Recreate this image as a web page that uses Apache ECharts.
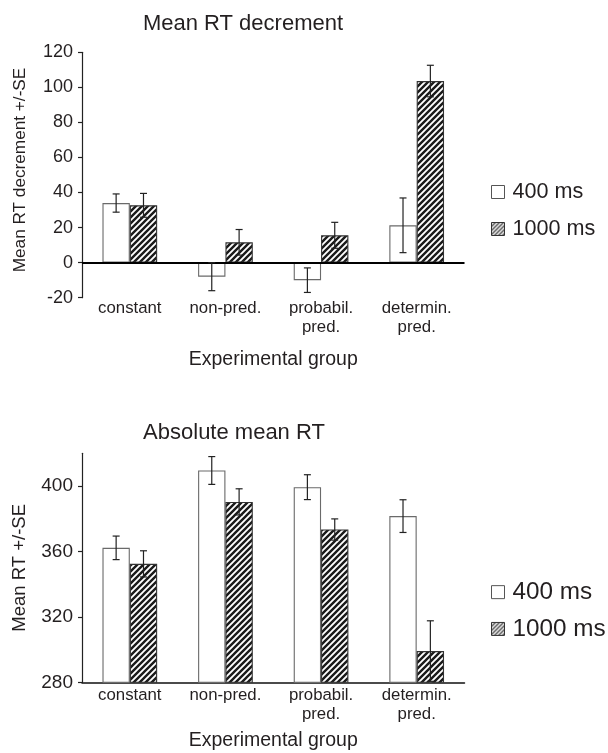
<!DOCTYPE html>
<html>
<head>
<meta charset="utf-8">
<script src="https://cdn.jsdelivr.net/npm/echarts@6/dist/echarts.min.js"></script>
<style>html,body{margin:0;padding:0;background:#fff;}#c{width:608px;height:753px;}</style>
</head>
<body>
<div id="c"></div>
<script>
var categories = ['constant', 'non-pred.', 'probabil.\npred.', 'determin.\npred.'];
var decrement400 = [34, -8, -10, 21.3];
var decrement400SE = [5.2, 8, 7, 15.6];
var decrement1000 = [32.7, 11.6, 15.6, 103.6];
var decrement1000SE = [6.8, 7.3, 7.4, 9];
var absolute400 = [362.2, 409.5, 399.3, 381.6];
var absolute400SE = [7.2, 8.5, 7.6, 10];
var absolute1000 = [352.4, 390.3, 373.4, 299.1];
var absolute1000SE = [8, 8, 6.5, 18.5];
var topTicks = [-20, 0, 20, 40, 60, 80, 100, 120];
var bottomTicks = [280, 320, 360, 400];
var seriesNames = ['400 ms', '1000 ms'];

var FONT = 'Liberation Sans, Arial, sans-serif';
var TXT = '#231f20';
var BAR_FRAC = 0.286;

function hatch(size, lw) {
  var c = document.createElement('canvas');
  c.width = size; c.height = size;
  var g = c.getContext('2d');
  g.fillStyle = '#fff'; g.fillRect(0, 0, size, size);
  g.strokeStyle = '#1a1a1a'; g.lineWidth = lw; g.lineCap = 'square';
  g.beginPath();
  g.moveTo(-1, size + 1); g.lineTo(size + 1, -1);
  g.moveTo(-1, 1); g.lineTo(1, -1);
  g.moveTo(size - 1, size + 1); g.lineTo(size + 1, size - 1);
  g.stroke();
  return c;
}
var bigHatch = { image: hatch(6, 2.4), repeat: 'repeat' };
var smallHatch = { image: hatch(4, 1.2), repeat: 'repeat' };

function errRender(side) {
  return function (params, api) {
    var i = api.value(0), v = api.value(1), se = api.value(2);
    var band = api.size([1, 0])[0];
    var x = api.coord([i, v])[0] + side * band * BAR_FRAC / 2;
    var hi = api.coord([i, v + se])[1];
    var lo = api.coord([i, v - se])[1];
    var cap = 3.5;
    var st = { stroke: '#222', lineWidth: 1.2 };
    return {
      type: 'group',
      children: [
        { type: 'line', shape: { x1: x, y1: hi, x2: x, y2: lo }, style: st },
        { type: 'line', shape: { x1: x - cap, y1: hi, x2: x + cap, y2: hi }, style: st },
        { type: 'line', shape: { x1: x - cap, y1: lo, x2: x + cap, y2: lo }, style: st }
      ]
    };
  };
}
function errData(vals, ses) {
  return vals.map(function (v, i) { return [i, v, ses[i]]; });
}

var chart = echarts.init(document.getElementById('c'), null, { renderer: 'canvas' });

function yAxisCfg(idx, min, max, interval, ticks, name, fs, nfs, npad) {
  return {
    type: 'value', gridIndex: idx, min: min, max: max, interval: interval,
    name: name, nameLocation: 'middle', nameGap: 62,
    nameTextStyle: { fontFamily: FONT, fontSize: nfs, color: TXT, verticalAlign: 'middle', padding: npad },
    axisLine: { show: true, lineStyle: { color: '#222', width: 1.2 } },
    axisTick: { show: true, inside: false, length: 4, lineStyle: { color: '#222', width: 1.2 }, customValues: ticks },
    axisLabel: { fontFamily: FONT, fontSize: fs, color: TXT, margin: 9, customValues: ticks },
    splitLine: { show: false }
  };
}
function xAxisCfg(idx, showLine, margin, nameGap) {
  return {
    type: 'category', gridIndex: idx, data: categories,
    name: 'Experimental group', nameLocation: 'middle', nameGap: nameGap,
    nameTextStyle: { fontFamily: FONT, fontSize: 19.5, color: TXT, verticalAlign: 'middle' },
    axisLine: { show: showLine, onZero: false, lineStyle: { color: '#111', width: 1.5 } },
    axisTick: { show: false },
    axisLabel: { fontFamily: FONT, fontSize: 16.8, color: TXT, margin: margin, lineHeight: 19, interval: 0 }
  };
}
function barSeries(name, xi, data, isHatch, extra) {
  var s = {
    type: 'bar', name: name, xAxisIndex: xi, yAxisIndex: xi, data: data,
    barWidth: (BAR_FRAC * 100) + '%', barGap: '0%',
    itemStyle: isHatch ? { color: bigHatch, borderColor: '#333', borderWidth: 1.1 }
                       : { color: '#fff', borderColor: '#6a6a6a', borderWidth: 1.1 },
    emphasis: { disabled: true }, animation: false
  };
  for (var k in extra) s[k] = extra[k];
  return s;
}
function errSeries(xi, vals, ses, side) {
  return {
    type: 'custom', xAxisIndex: xi, yAxisIndex: xi, renderItem: errRender(side),
    data: errData(vals, ses), z: 5, animation: false, silent: true
  };
}
function legendCfg(top, fs, gap) {
  return {
    orient: 'vertical', left: 491, top: top, padding: 0, itemWidth: 13, itemHeight: 13, itemGap: gap,
    icon: 'rect', selectedMode: false,
    textStyle: { fontFamily: FONT, fontSize: fs, color: TXT, lineHeight: fs, padding: [0, 0, 0, 3] },
    data: [
      { name: seriesNames[0], itemStyle: { color: '#fff', borderColor: '#555', borderWidth: 1 } },
      { name: seriesNames[1], itemStyle: { color: smallHatch, borderColor: '#333', borderWidth: 1 } }
    ]
  };
}

var option = {
  backgroundColor: '#fff',
  animation: false,
  title: [
    { text: 'Mean RT decrement', left: 238, top: 8, textAlign: 'center',
      textStyle: { fontFamily: FONT, fontSize: 22, fontWeight: 'normal', color: TXT } },
    { text: 'Absolute mean RT', left: 229, top: 417, textAlign: 'center',
      textStyle: { fontFamily: FONT, fontSize: 22, fontWeight: 'normal', color: TXT } }
  ],
  legend: [legendCfg(181, 21.6, 15), legendCfg(580, 24.3, 12.5)],
  grid: [
    { left: 82, top: 52.3, width: 382.5, height: 245.4 },
    { left: 82, top: 453.3, width: 382.5, height: 229 }
  ],
  xAxis: [xAxisCfg(0, false, 1, 62), xAxisCfg(1, true, 4, 58)],
  yAxis: [
    yAxisCfg(0, -20, 120, 20, topTicks, 'Mean RT decrement +/-SE', 18, 17.2, [0, 0, 0, 10]),
    yAxisCfg(1, 280, 420, 40, bottomTicks, 'Mean RT +/-SE', 19, 18.5, 0)
  ],
  series: [
    barSeries(seriesNames[0], 0, decrement400, false, {
      markLine: { silent: true, symbol: 'none', label: { show: false },
        lineStyle: { color: '#000', width: 2, type: 'solid' }, data: [{ yAxis: 0 }], animation: false }
    }),
    barSeries(seriesNames[1], 0, decrement1000, true, {}),
    errSeries(0, decrement400, decrement400SE, -1),
    errSeries(0, decrement1000, decrement1000SE, 1),
    barSeries(seriesNames[0], 1, absolute400, false, {}),
    barSeries(seriesNames[1], 1, absolute1000, true, {}),
    errSeries(1, absolute400, absolute400SE, -1),
    errSeries(1, absolute1000, absolute1000SE, 1)
  ]
};
chart.setOption(option);
</script>
</body>
</html>
